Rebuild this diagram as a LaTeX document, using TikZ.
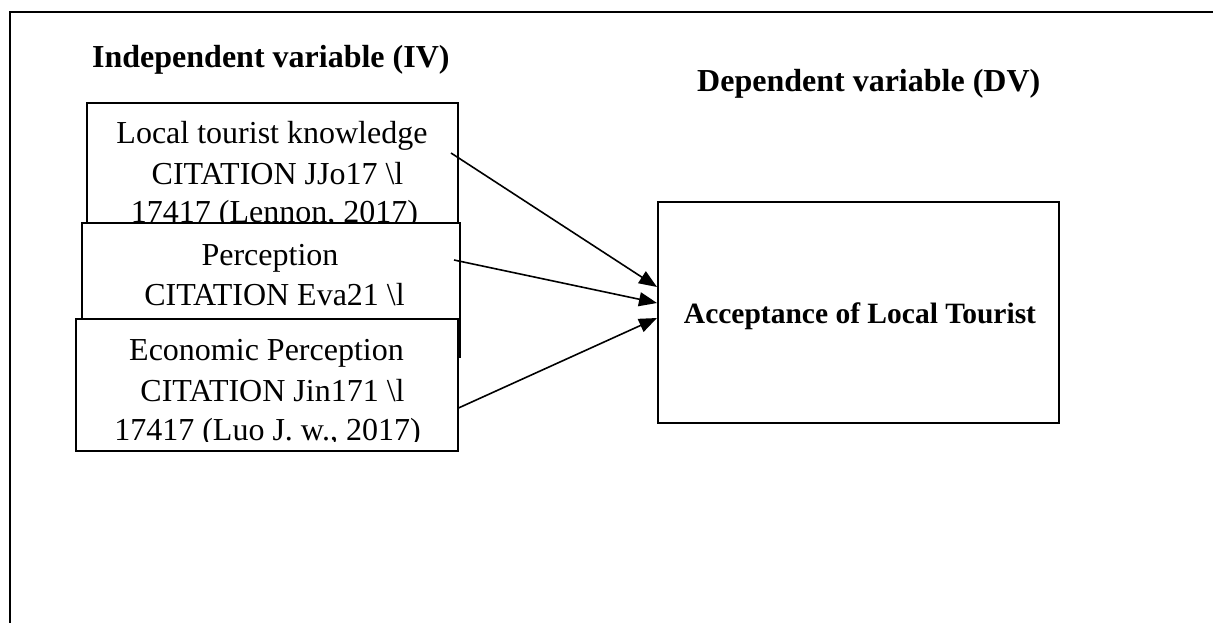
\documentclass[tikz,border=0pt]{standalone}
\usepackage{fontspec}
\setmainfont{Liberation Serif}
\usetikzlibrary{arrows.meta}
\begin{document}
\begin{tikzpicture}[x=1pt,y=-1pt,
  boxshape/.style={draw, line width=2pt, fill=white, rectangle, inner sep=0pt},
  txt/.style={anchor=base, inner sep=0pt, font=\fontsize{32}{40}\selectfont},
  head/.style={anchor=base west, inner sep=0pt, font=\fontsize{32}{40}\selectfont\bfseries},
  link/.style={line width=1.6pt, -{Triangle[length=18pt,width=14pt]}}]
\useasboundingbox (0,0) rectangle (1213,623);
\clip (0,0) rectangle (1213,623);

% outer frame, running off the right and bottom edges
\draw[line width=2pt] (1230,12) -- (10,12) -- (10,640);

% headings
\node[head] (ivhead) at (92,68) {Independent variable (IV)};
\node[head] (dvhead) at (697,92) {Dependent variable (DV)};

% first independent variable
\node[boxshape, minimum width=371pt, minimum height=147pt] (b1) at (272.5,176.5) {};
\node[txt] (b1l1) at (272,143) {Local tourist knowledge};
\node[txt] (b1l2) at (277.5,185) {CITATION JJo17 \textbackslash l};
\node[txt] (b1l3) at (274.5,222) {17417 (Lennon, 2017)};

% second independent variable
\node[boxshape, minimum width=377.5pt, minimum height=134pt] (b2) at (270.75,290) {};
\node[txt] (b2l1) at (270,265) {Perception};
\node[txt] (b2l2) at (274.5,305) {CITATION Eva21 \textbackslash l};

% third independent variable, text cut at the inner margin
\node[boxshape, minimum width=381.5pt, minimum height=132pt] (b3) at (266.75,385) {};
\begin{scope}
  \clip (76,319) rectangle (458,441);
  \node[txt] (b3l1) at (266.5,360) {Economic Perception};
  \node[txt] (b3l2) at (272.5,401.5) {CITATION Jin171 \textbackslash l};
  \node[txt] (b3l3) at (267.5,440) {17417 (Luo J. w., 2017)};
\end{scope}

% dependent variable
\node[boxshape, minimum width=401pt, minimum height=221pt] (acc) at (858.5,312.5) {};
\node[anchor=base, inner sep=0pt, font=\fontsize{29.5}{36}\selectfont\bfseries]
      (acclabel) at (860,323) {Acceptance of Local Tourist};

% connectors
\coordinate (s1) at ([xshift=-8pt,yshift=23.5pt]b1.east);
\coordinate (s2) at ([xshift=-6.5pt,yshift=30pt]b2.east);
\coordinate (s3) at ([yshift=-23pt]b3.east);
\draw[link] (s1) -- ([yshift=25.5pt]acc.west);
\draw[link] (s2) -- ([yshift=9.5pt]acc.west);
\draw[link] (s3) -- ([yshift=-5.5pt]acc.west);
\end{tikzpicture}
\end{document}
